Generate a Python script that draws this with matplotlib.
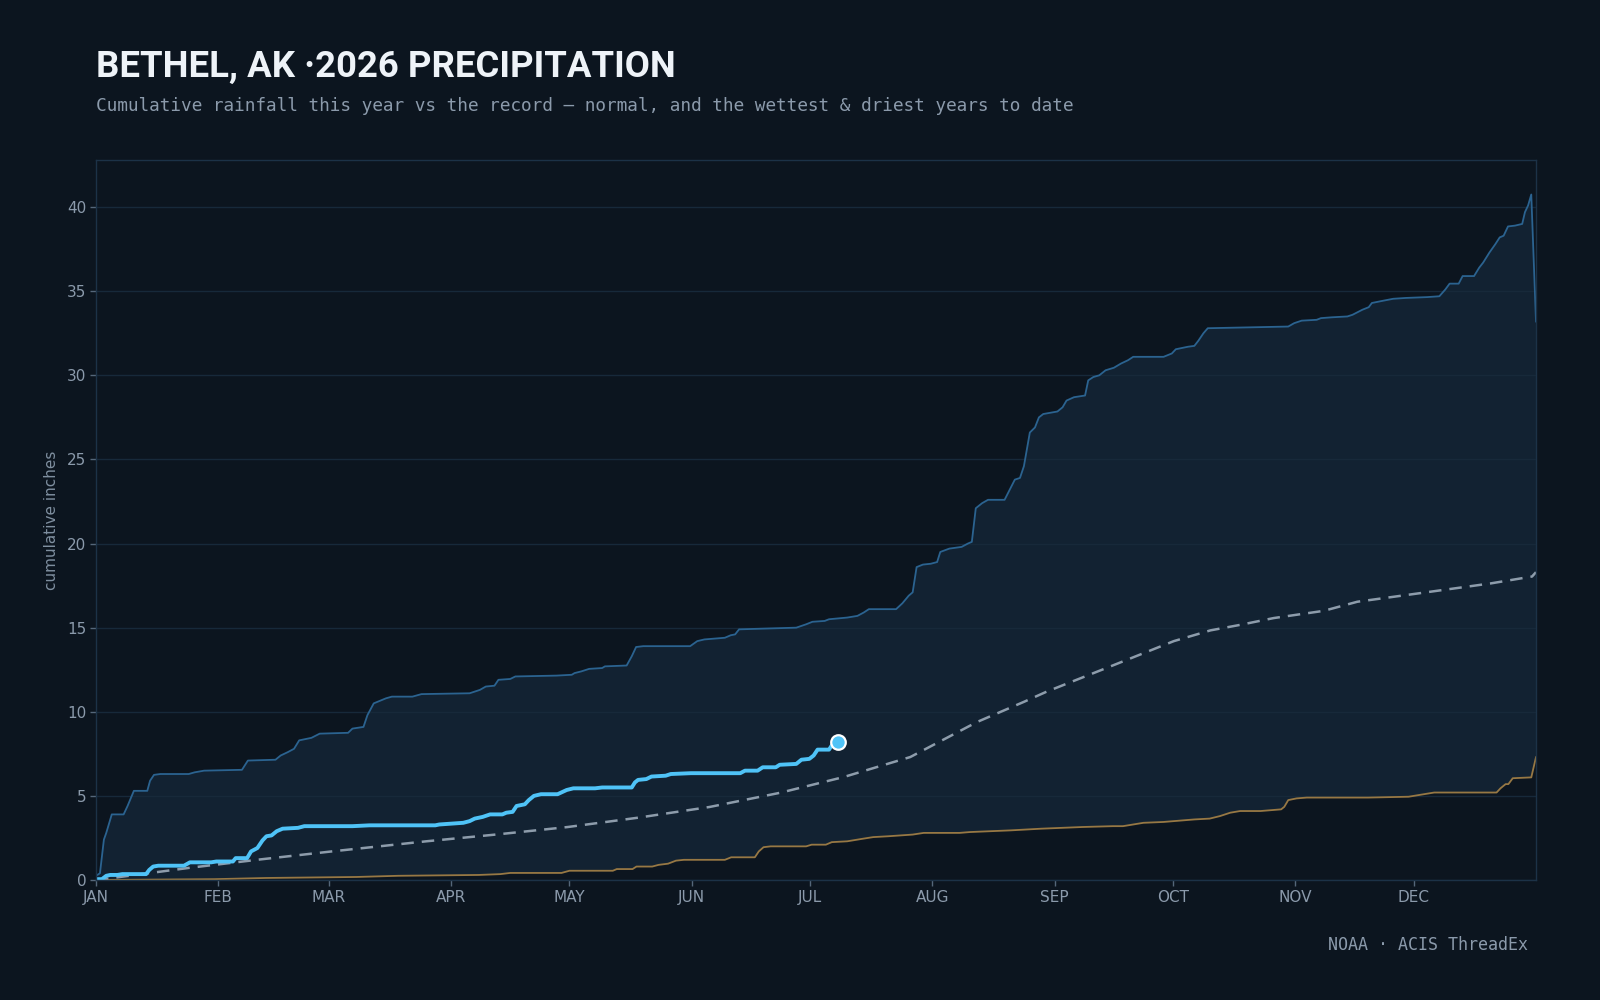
import matplotlib
matplotlib.use("Agg")
import matplotlib.pyplot as plt

# colours
BG = "#0c151f"
BAND = "#122232"
GRID = "#17293a"
SPINE = "#1c3247"
TXT = "#8b9aab"
WET_C = "#2b6390"
DRY_C = "#977844"
NORM_C = "#8d9cab"
CUR_C = "#4fc3f7"

# day-of-year (0 = Jan 1) and cumulative inches
wet_day = [0, 1, 2, 2.6, 4, 7, 8, 9.6, 13, 13.7, 14.7, 16.3, 23.5, 25, 27.4, 37, 38.5, 45.5, 46.8,
           48.6, 50.2, 51.5, 54.6, 56.7, 63.9, 65, 67.8, 68.8, 70.4, 73.5, 75, 80.2, 82.5, 94.7,
           97.3, 98.8, 101, 102, 105, 106.3, 116.7, 120.6, 121.3, 123, 125, 128.3, 129, 134.5,
           135.8, 136.9, 138.7, 150.6, 152.4, 154.2, 159.4, 160.9, 162, 163, 177.5, 180, 181.6,
           184.7, 185.8, 190.4, 193, 194.6, 195.9, 202.8, 204.4, 206, 207, 208, 209.6, 211.6,
           213.2, 214, 216.3, 219.4, 221, 222, 223, 224.6, 226.1, 230.3, 231.8, 232.9, 234.2,
           235.2, 236.7, 238, 239, 240.1, 243.7, 245, 246, 247.9, 250.7, 251.5, 252.8, 254.3,
           255.9, 258, 259.8, 261.6, 262.9, 270.6, 272.7, 273.7, 276.8, 278.4, 279.4, 280.7,
           281.8, 292.6, 302.2, 303.7, 305.6, 309.4, 310.5, 313.3, 317.2, 318.5, 321, 322.6,
           323.4, 325.5, 328.8, 332, 337.4, 340.5, 342, 343.1, 345.4, 346.4, 349.3, 350.6, 351.6,
           353.2, 354.7, 355.8, 356.8, 357.9, 359.7, 361.5, 362.2, 363, 363.8, 365]
wet_val = [0.25, 0.4, 2.4, 2.8, 3.9, 3.9, 4.4, 5.3, 5.3, 5.9, 6.25, 6.3, 6.3, 6.4, 6.5, 6.55, 7.1,
           7.15, 7.4, 7.6, 7.8, 8.3, 8.45, 8.7, 8.75, 9.0, 9.1, 9.8, 10.5, 10.8, 10.9, 10.9, 11.05,
           11.1, 11.3, 11.5, 11.55, 11.9, 11.95, 12.1, 12.15, 12.2, 12.3, 12.4, 12.55, 12.6, 12.7,
           12.75, 13.3, 13.85, 13.9, 13.9, 14.2, 14.3, 14.4, 14.55, 14.6, 14.9, 15.0, 15.2, 15.35,
           15.4, 15.5, 15.6, 15.7, 15.9, 16.1, 16.1, 16.45, 16.9, 17.1, 18.6, 18.75, 18.8, 18.9,
           19.5, 19.7, 19.8, 20.0, 20.1, 22.1, 22.4, 22.6, 22.6, 23.3, 23.8, 23.9, 24.6, 26.6,
           26.9, 27.5, 27.7, 27.85, 28.1, 28.5, 28.7, 28.8, 29.7, 29.9, 30.0, 30.3, 30.45, 30.7,
           30.9, 31.1, 31.1, 31.3, 31.55, 31.7, 31.75, 32.05, 32.5, 32.8, 32.85, 32.9, 33.1,
           33.25, 33.3, 33.4, 33.45, 33.5, 33.6, 33.9, 34.05, 34.3, 34.4, 34.55, 34.6, 34.65,
           34.7, 35.1, 35.45, 35.45, 35.9, 35.9, 36.4, 36.7, 37.3, 37.8, 38.2, 38.3, 38.85, 38.9,
           39.0, 39.7, 40.1, 40.75, 33.2]

dry_day = [0, 30, 43, 66, 76.6, 97, 102.5, 105, 118, 120, 131, 132, 136, 137, 141, 142.6, 145, 147,
           149, 159.4, 161, 167, 168, 169.2, 171, 180, 181.4, 185, 186.5, 190.4, 194.3, 197, 200.8,
           207, 209.8, 218.9, 221.5, 231.8, 239.6, 244.8, 250, 257.7, 260.3, 265.5, 270.6, 273.2,
           278.4, 282.3, 284.9, 287.5, 290, 295.2, 300.4, 301.2, 302.2, 304.3, 306.9, 322.4,
           332.7, 336.6, 339.2, 355, 356, 357.3, 358, 359.1, 363.8, 365]
dry_val = [0.0, 0.05, 0.12, 0.18, 0.25, 0.3, 0.35, 0.42, 0.42, 0.55, 0.55, 0.65, 0.65, 0.8, 0.8,
           0.9, 0.97, 1.15, 1.2, 1.2, 1.35, 1.35, 1.7, 1.95, 2.0, 2.0, 2.1, 2.1, 2.25, 2.3, 2.45,
           2.55, 2.6, 2.7, 2.8, 2.8, 2.85, 2.95, 3.05, 3.1, 3.15, 3.2, 3.2, 3.4, 3.45, 3.5, 3.6,
           3.65, 3.8, 4.0, 4.1, 4.1, 4.2, 4.35, 4.75, 4.85, 4.9, 4.9, 4.95, 5.1, 5.2, 5.2, 5.45,
           5.7, 5.7, 6.05, 6.1, 7.3]

norm_day = [0, 4.8, 23.9, 41.9, 59.8, 83.7, 101.7, 119.6, 137.6, 155.5, 173.5, 189.5, 206.4,
            223.3, 235.1, 241, 256.3, 273.2, 282.5, 290.1, 298.5, 311.2, 319.7, 336.5, 353.5,
            364, 365]
norm_val = [0.0, 0.14, 0.73, 1.23, 1.7, 2.3, 2.71, 3.15, 3.71, 4.34, 5.19, 6.12, 7.31, 9.39,
            10.58, 11.2, 12.62, 14.2, 14.84, 15.17, 15.57, 16.0, 16.54, 17.08, 17.63, 18.04, 18.3]

cur_day = [0, 1.5, 2.6, 3.6, 5.4, 6.7, 12.7, 13.5, 14.5, 15.8, 22.3, 23.8, 29.2, 30.5, 34.7, 35.4,
           38.3, 39.3, 40.9, 42.2, 43.2, 44.5, 45.8, 47.3, 51.2, 52.8, 65, 69.3, 86, 87, 93.1,
           94.7, 96, 98, 99.9, 103, 104, 105.6, 106.6, 108.7, 109.7, 111, 112.8, 117, 119.3, 121,
           126.5, 128.3, 135.8, 136.6, 137.4, 139.5, 140.8, 144.4, 145.7, 150.8, 163.3, 164.5,
           167.7, 169, 172.3, 173.3, 177.5, 178.8, 180.8, 181.9, 182.9, 185.8, 186.5, 188.1]
cur_val = [0.05, 0.05, 0.25, 0.3, 0.3, 0.35, 0.35, 0.6, 0.8, 0.85, 0.85, 1.05, 1.05, 1.1, 1.1, 1.3,
           1.3, 1.7, 1.9, 2.35, 2.6, 2.65, 2.9, 3.05, 3.1, 3.2, 3.2, 3.25, 3.25, 3.3, 3.4, 3.5,
           3.65, 3.75, 3.9, 3.9, 4.0, 4.05, 4.4, 4.5, 4.75, 5.0, 5.1, 5.1, 5.35, 5.45, 5.45, 5.5,
           5.5, 5.8, 5.95, 6.0, 6.15, 6.2, 6.3, 6.35, 6.35, 6.5, 6.5, 6.7, 6.7, 6.85, 6.9, 7.15,
           7.2, 7.4, 7.75, 7.75, 8.0, 8.2]

month_days = [0, 31, 59, 90, 120, 151, 181, 212, 243, 273, 304, 334]
month_labels = ["JAN", "FEB", "MAR", "APR", "MAY", "JUN", "JUL", "AUG", "SEP", "OCT", "NOV", "DEC"]
y_ticks = [0, 5, 10, 15, 20, 25, 30, 35, 40]

fig = plt.figure(figsize=(16, 10), dpi=100, facecolor=BG)
ax = fig.add_axes([0.06, 0.12, 0.90, 0.72], facecolor=BG)

# record band: wettest on top, driest below
ax.fill(wet_day + dry_day[::-1], wet_val + dry_val[::-1], color=BAND, lw=0, zorder=1)
ax.plot(wet_day, wet_val, color=WET_C, lw=1.3, zorder=3)
ax.plot(dry_day, dry_val, color=DRY_C, lw=1.3, zorder=3)
ax.plot(norm_day, norm_val, color=NORM_C, lw=1.8, ls=(0, (5, 3.2)), zorder=4)
ax.plot(cur_day, cur_val, color=CUR_C, lw=2.8, solid_joinstyle="round", zorder=5)
ax.scatter([cur_day[-1]], [cur_val[-1]], s=110, color=CUR_C, edgecolor="white", lw=1.6, zorder=6)

ax.set_xlim(0, 365)
ax.set_ylim(0, 42.8)
ax.set_xticks(month_days)
ax.set_xticklabels(month_labels)
ax.set_yticks(y_ticks)
ax.grid(axis="y", color=GRID, lw=1, zorder=2)
ax.set_axisbelow(False)
ax.grid(axis="x", visible=False)
ax.tick_params(colors=TXT, labelsize=11, length=4, width=1, pad=3)
ax.tick_params(axis="both", color="#55677a")
for s in ax.spines.values():
    s.set_color(SPINE)
    s.set_linewidth(1)
    s.set_zorder(7)

ax.set_ylabel("cumulative inches", color="#7f8fa0", fontsize=11, labelpad=6)

fig.text(0.06, 0.9235, "BETHEL, AK \u00b72026 PRECIPITATION", color="#eef3f8", fontsize=26.3,
         fontweight="bold", family="Roboto", ha="left", va="baseline")
fig.text(0.06, 0.889, "Cumulative rainfall this year vs the record \u2014 normal, and the wettest & driest years to date",
         color=TXT, fontsize=12.8, family="DejaVu Sans Mono", ha="left", va="baseline")
fig.text(0.955, 0.05, "NOAA \u00b7 ACIS ThreadEx", color=TXT, fontsize=12,
         family="DejaVu Sans Mono", ha="right", va="baseline")

fig.savefig("out.png", dpi=100, facecolor=BG)
